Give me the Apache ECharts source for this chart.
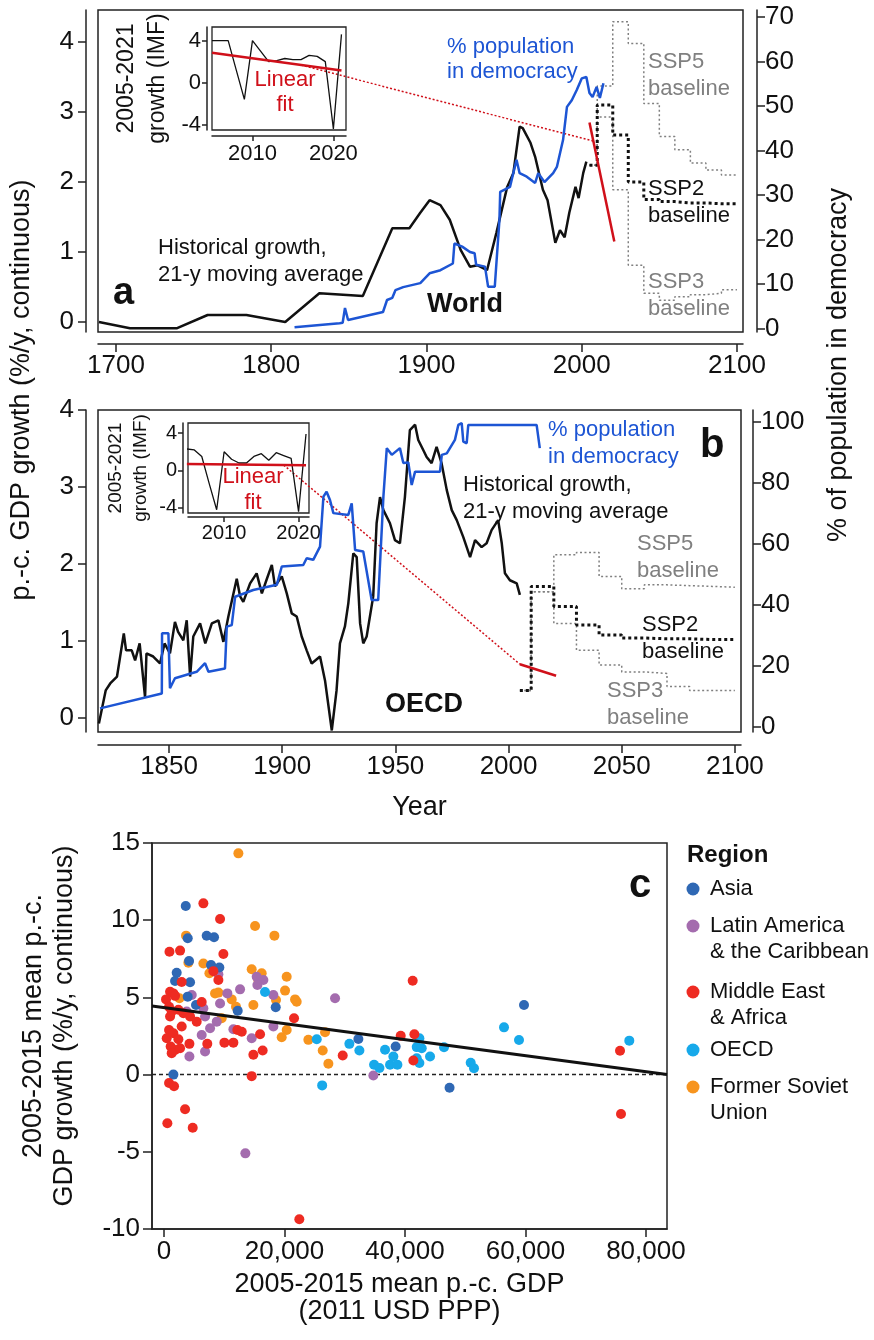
<!DOCTYPE html>
<html>
<head>
<meta charset="utf-8">
<title>Growth and democracy</title>
<script src="https://cdn.jsdelivr.net/npm/echarts@6/dist/echarts.min.js"></script>
<style>
  html, body { margin: 0; padding: 0; background: #fff; }
  #chart { width: 874px; height: 1340px; }
</style>
</head>
<body>
<div id="chart"></div>
<script>
// ---------- panel a: World ----------
var worldYears = [1689,1709,1739,1759,1784,1809,1831,1859,1878,1889,1896,1902,1909,1915,1922,1928,1933,1939,1945,1952,1956,1960,1962,1967,1970,1975,1978,1983,1986,1989,1992,1996,1998,2001,2003];
var worldGrowth = [0.0,-0.09,-0.09,0.10,0.10,0.0,0.41,0.37,1.34,1.34,1.56,1.74,1.67,1.46,1.03,0.79,0.81,0.74,1.27,1.93,2.13,2.79,2.77,2.56,2.36,1.89,1.74,1.13,1.31,1.21,1.56,1.93,1.77,2.13,2.29];

var worldDemYears = [1815,1844,1846,1847.5,1849.5,1872,1874.6,1878,1880,1885,1896,1902,1909,1917,1918,1923,1928,1931,1932,1937.7,1939.7,1944,1947,1947.5,1953.8,1958,1960,1964.6,1970,1972,1976,1981.6,1984,1988,1990.5,1993.6,1996.8,2000,2003,2005,2007,2009.6,2011.7,2014];
var worldDem = [0.3,1.2,1.3,4.6,1.9,3.7,6.4,6.9,8.6,9.3,10.2,12.4,13.1,14.6,19.1,18.4,17.2,16.9,14.3,13.9,9.4,9.4,24.4,30.7,31.8,37.9,34.9,34.1,32.7,34.9,32.9,34.9,36.3,42.4,49.8,51.3,53.6,56.2,56.5,52.9,52.0,54.3,51.8,55.1];

// ---------- panel b: OECD ----------
var oecdYears = [1819,1822,1824,1827,1830,1831,1833.5,1835,1837,1839.4,1840,1843,1846,1848,1850.4,1852.6,1854,1856.3,1857.8,1859.3,1860.7,1863.7,1866,1868.9,1871.8,1874,1876.2,1879.9,1881.4,1882.8,1885.8,1888.7,1891,1893,1895.4,1896.8,1899.8,1902,1904.2,1906.4,1908.6,1910.8,1913,1916.7,1918.9,1921.9,1924,1925.5,1927.7,1929.2,1931.4,1932.9,1934.4,1935.8,1937.3,1940.2,1941.7,1943.2,1944.7,1947.6,1949.8,1952,1954.2,1956.4,1958.7,1960.1,1962.3,1963.8,1966,1968.2,1970.4,1972.7,1974.9,1977.1,1980,1983,1985.2,1988.1,1990.3,1992.5,1995.4,1997,1998.4,2000.6,2003.6,2005];
var oecdGrowth = [-0.07,0.36,0.45,0.54,1.10,0.88,0.88,0.75,0.97,0.27,0.84,0.80,0.71,0.97,0.84,1.25,1.12,1.01,1.27,0.54,1.06,1.23,0.97,1.23,1.27,0.99,1.32,1.81,1.58,1.51,1.75,1.88,1.62,1.79,1.99,1.71,1.84,1.62,1.36,1.32,1.06,0.88,0.71,0.80,0.49,-0.16,0.36,0.97,1.19,1.49,2.14,2.09,1.23,0.97,1.06,1.58,2.53,2.87,2.70,2.53,2.31,2.27,2.87,3.74,3.81,3.61,3.48,3.39,3.31,3.52,3.31,2.96,2.70,2.57,2.35,2.09,2.31,2.22,2.27,2.44,2.57,2.27,1.88,1.79,1.75,1.60];

var oecdDemYears = [1819.5,1846.8,1846.9,1849.7,1850.4,1852.6,1862.2,1865.9,1867.4,1874.7,1875.5,1877.7,1879.2,1887.2,1897.6,1899.8,1909.3,1910.8,1913.7,1916.7,1918.2,1919.6,1921.1,1922.6,1929.2,1930.7,1932.2,1935.8,1939.5,1942.4,1944.7,1946.2,1948.4,1952,1953.5,1955.7,1957.2,1958.7,1969.7,1970.5,1972.7,1974.1,1976.3,1977.8,1979.3,1980,1981.5,1982.2,2012.4,2013.8];
var oecdDem = [6.1,11.0,30.7,30.7,12.7,16.0,18.1,20.9,18.1,19.2,32.9,33.4,42.7,44.9,46.6,52.6,53.1,55.3,54.8,59.1,75.5,77.1,74.4,70.1,69.5,73.3,58.0,57.5,41.6,41.6,75.5,91.4,89.2,91.4,86.5,86.7,79.3,83.7,83.7,89.2,89.7,91.4,94.1,99.0,99.6,93.5,93.0,99.0,99.0,91.4];

// ---------- SSP baselines (value held from each year to the next) ----------
var sspYears = [2005,2010,2020,2030,2040,2050,2060,2070,2080,2090,2100];
var worldSsp2 = [2.24,3.10,2.67,2.00,1.75,1.72,1.70,1.70,1.69,1.69,1.69];
var worldSsp5 = [2.24,3.37,4.29,3.98,3.12,2.65,2.46,2.27,2.17,2.10,2.10];
var worldSsp3 = [2.24,2.93,1.89,0.81,0.41,0.31,0.36,0.39,0.41,0.46,0.46];
var oecdSsp2 = [0.36,1.71,1.45,1.21,1.08,1.04,1.03,1.03,1.02,1.02,1.02];
var oecdSsp5 = [0.36,1.64,2.12,2.15,1.84,1.68,1.73,1.72,1.71,1.70,1.70];
var oecdSsp3 = [0.36,1.64,1.23,0.88,0.69,0.60,0.58,0.41,0.36,0.36,0.36];

// ---------- insets: IMF growth 2005-2021 and linear fits ----------
var imfYears = [2005,2006,2007,2008,2009,2010,2011,2012,2013,2014,2015,2016,2017,2018,2019,2020,2021];
var worldImf = [4.0,4.0,4.0,1.2,-1.6,4.0,3.0,2.0,2.1,2.3,2.2,2.2,2.6,2.5,2.0,-4.4,4.6];
var oecdImf = [2.3,2.2,1.5,-1.4,-4.2,2.0,1.2,0.8,0.8,1.5,1.8,1.1,1.9,1.6,1.3,-4.4,3.9];
var fitYears = [2005, 2021];
var worldFit = [2.85, 1.15];
var oecdFit = [0.70, 0.55];

// ---------- panel c: [mean GDP, mean growth] by region ----------
var regionNames = ['Asia', 'Latin America\n& the Caribbean', 'Middle East\n& Africa', 'OECD', 'Former Soviet\nUnion'];
var regionColors = ['#2f68b4', '#a46cae', '#ee2b22', '#17a9ea', '#f7941e'];
var asiaPts = [[3600,10.92],[3930,8.83],[7080,8.99],[8300,8.9],[4150,7.36],[7800,7.1],[9180,6.94],[2100,6.6],[1830,6.06],[4320,5.98],[3930,5.05],[5310,4.51],[12230,4.14],[18540,4.36],[32260,2.31],[38450,1.82],[1550,0.0],[47400,-0.85],[59760,4.51]];
var latamPts = [[4600,5.15],[10510,5.26],[12620,5.52],[9020,6.5],[15380,6.34],[16490,6.13],[15500,5.8],[18150,5.15],[28390,4.94],[9300,4.61],[6530,4.3],[6810,3.76],[8750,3.43],[7640,3.0],[6250,2.57],[11510,2.94],[14550,2.36],[18150,3.11],[6810,1.5],[4210,1.17],[34750,-0.06],[13500,-5.1],[3760,4.08]];
var meaPts = [[6530,11.09],[9300,10.08],[9850,7.81],[900,7.96],[2660,8.03],[2930,6.0],[9020,6.13],[8190,6.7],[1000,5.37],[330,4.87],[1550,5.26],[1830,5.1],[6250,4.7],[830,4.4],[1270,4.08],[2380,4.2],[3210,3.97],[4320,3.76],[5420,3.43],[1000,3.76],[2930,3.11],[830,2.89],[443,2.35],[1550,2.68],[2380,2.29],[1100,1.82],[1830,1.6],[2660,1.71],[1270,1.39],[4210,1.99],[7180,1.99],[10020,2.07],[11510,2.07],[12170,2.89],[12900,2.78],[15940,2.61],[21580,3.65],[14830,1.28],[16370,1.56],[29660,1.24],[39290,2.51],[41560,2.61],[41280,6.08],[41390,0.91],[14550,-0.1],[830,-0.54],[1660,-0.76],[3490,-2.24],[550,-3.15],[4760,-3.44],[22460,-9.37],[75700,1.55],[75860,-2.55]];
var oecdPts = [[16760,5.35],[25350,2.29],[26250,-0.7],[30770,1.99],[32430,1.56],[34870,0.64],[35760,0.43],[36690,1.61],[37520,0.64],[38070,1.17],[38740,0.64],[41950,1.78],[42390,2.35],[42780,1.71],[41950,1.06],[42390,0.75],[44160,1.17],[46480,1.77],[50910,0.77],[51460,0.41],[56440,3.06],[58930,2.24],[77240,2.2]];
var fsuPts = [[12340,14.33],[15110,9.63],[18320,9.0],[3650,9.0],[4040,7.25],[6530,7.2],[7530,6.56],[7910,6.99],[14550,6.82],[16210,6.56],[20360,6.34],[15660,6.13],[8470,5.26],[9020,5.31],[11230,4.87],[11950,4.4],[14830,4.51],[20090,5.44],[18590,4.83],[21750,4.87],[22020,4.72],[2550,4.94],[9570,3.65],[20360,2.89],[19530,2.42],[23960,2.25],[26730,2.74],[26340,1.56],[27280,0.7]];
var regX = [-2000, 83500];
var regY = [4.44, 0.0];
var zeroY = [0, 0];

// ---------- tick labels ----------
var yearTicksA = [1700,1800,1900,2000,2100];
var yearTicksB = [1850,1900,1950,2000,2050,2100];
var growthTicks = [0,1,2,3,4];
var demTicksA = [0,10,20,30,40,50,60,70];
var demTicksB = [0,20,40,60,80,100];
var insetXTicks = [2010,2020];
var insetYTicks = [-4,0,4];
var gdpTicks = [0,20000,40000,60000,80000];
var growthTicksC = [-10,-5,0,5,10,15];

var FONT = '"Liberation Sans", Arial, Helvetica, sans-serif';
var INK = '#111';
var BLUE = '#1d55d4';
var RED = '#d0101a';
var GREY = '#808080';

function zip(xs, ys) { return xs.map(function (x, i) { return [x, ys[i]]; }); }
function plain(v) { return String(v); }

function axis(gridIndex, min, max, ticks, o) {
  o = o || {};
  var a = {
    gridIndex: gridIndex, type: 'value', min: min, max: max,
    position: o.position, offset: o.offset || 0,
    splitLine: { show: false },
    axisLine: { show: true, onZero: false, lineStyle: { color: '#222', width: 1.5 } },
    axisTick: { show: true, customValues: ticks, length: o.tickLen || 8, lineStyle: { color: '#222', width: 1.5 } },
    axisLabel: { customValues: ticks, color: INK, fontFamily: FONT, fontSize: o.fontSize || 26, margin: o.margin || 10,
      formatter: o.formatter || plain }
  };
  if (o.name) {
    a.name = o.name; a.nameLocation = 'middle'; a.nameGap = o.nameGap;
    if (o.nameRotate) a.nameRotate = o.nameRotate;
    a.nameTextStyle = o.nameTextStyle;
  }
  return a;
}

function line(xi, yi, data, style, extra) {
  var s = {
    type: 'line', xAxisIndex: xi, yAxisIndex: yi, data: data,
    showSymbol: false, symbol: 'none', silent: true, animation: false,
    lineStyle: style, z: 3
  };
  for (var k in extra) s[k] = extra[k];
  return s;
}

var ssp5Style = { color: GREY, width: 1.5, type: [2, 2.5] };
var ssp2Style = { color: '#111', width: 3, type: [3, 3] };
var histStyle = { color: '#111', width: 2.5 };
var demStyle = { color: BLUE, width: 2.5 };
var fitStyle = { color: RED, width: 2.5 };

var series = [
  // panel a
  line(0, 0, zip(sspYears, worldSsp5), ssp5Style, { step: 'end' }),
  line(0, 0, zip(sspYears, worldSsp3), ssp5Style, { step: 'end' }),
  line(0, 0, zip(sspYears, worldSsp2), ssp2Style, { step: 'end' }),
  line(0, 0, zip(worldYears, worldGrowth), histStyle),
  line(0, 1, zip(worldDemYears, worldDem), demStyle),
  line(0, 0, zip(fitYears, worldFit), fitStyle, { z: 5 }),
  // inset a
  line(1, 2, zip(imfYears, worldImf), { color: '#111', width: 1.3 }),
  line(1, 2, zip(fitYears, worldFit), fitStyle, { z: 5 }),
  // panel b
  line(2, 3, zip(sspYears, oecdSsp5), ssp5Style, { step: 'end' }),
  line(2, 3, zip(sspYears, oecdSsp3), ssp5Style, { step: 'end' }),
  line(2, 3, zip(sspYears, oecdSsp2), ssp2Style, { step: 'end' }),
  line(2, 3, zip(oecdYears, oecdGrowth), histStyle),
  line(2, 4, zip(oecdDemYears, oecdDem), demStyle),
  line(2, 3, zip(fitYears, oecdFit), fitStyle, { z: 5 }),
  // inset b
  line(3, 5, zip(imfYears, oecdImf), { color: '#111', width: 1.3 }),
  line(3, 5, zip(fitYears, oecdFit), fitStyle, { z: 5 }),
  // panel c
  line(4, 6, zip(regX, zeroY), { color: '#222', width: 1.5, type: [4, 3] })
];
var FIT_A_MAIN = 5, FIT_A_INSET = 7, FIT_B_MAIN = 13, FIT_B_INSET = 15;

var regionPts = [asiaPts, latamPts, meaPts, oecdPts, fsuPts];
var drawOrder = [4, 1, 3, 0, 2];
drawOrder.forEach(function (r) {
  series.push({
    type: 'scatter', name: regionNames[r], xAxisIndex: 4, yAxisIndex: 6,
    data: regionPts[r], symbolSize: 10, silent: true, animation: false,
    itemStyle: { color: regionColors[r], opacity: 1 }, z: 4
  });
});
series.push(line(4, 6, zip(regX, regY), { color: '#111', width: 3 }, { z: 6 }));

var titleStyle = { color: INK, fontFamily: FONT, fontSize: 27 };

var option = {
  animation: false,
  textStyle: { fontFamily: FONT },
  grid: [
    { left: 98, top: 10, width: 645, height: 322, show: true, borderColor: '#222', borderWidth: 1.5 },
    { left: 212, top: 27, width: 134, height: 103, show: true, borderColor: '#222', borderWidth: 1.3 },
    { left: 98, top: 410, width: 643, height: 322, show: true, borderColor: '#222', borderWidth: 1.5 },
    { left: 188, top: 423, width: 121, height: 90, show: true, borderColor: '#222', borderWidth: 1.3 },
    { left: 152, top: 843, width: 515, height: 386, show: true, borderColor: '#222', borderWidth: 1.5 }
  ],
  xAxis: [
    axis(0, 1688.4, 2103.9, yearTicksA, { position: 'bottom', offset: 12, margin: 9 }),
    axis(1, 2005.0, 2021.56, insetXTicks, { position: 'bottom', offset: 6, fontSize: 22, tickLen: 5, margin: 7 }),
    axis(2, 1818.6, 2102.7, yearTicksB, { position: 'bottom', offset: 13, margin: 9,
      name: 'Year', nameGap: 49, nameTextStyle: titleStyle }),
    axis(3, 2005.15, 2021.4, insetXTicks, { position: 'bottom', offset: 4, fontSize: 20, tickLen: 5, margin: 6 }),
    axis(4, -2000, 83500, gdpTicks, { position: 'bottom', margin: 10,
      formatter: function (v) { return v.toLocaleString('en-US'); },
      name: '2005-2015 mean p.-c. GDP\n(2011 USD PPP)', nameGap: 42,
      nameTextStyle: { color: INK, fontFamily: FONT, fontSize: 27, lineHeight: 27, padding: [0, 20, 0, 0] } })
  ],
  yAxis: [
    axis(0, -0.143, 4.457, growthTicks, { position: 'left', offset: 12, margin: 12 }),
    axis(0, -0.79, 71.57, demTicksA, { position: 'right', offset: 14, margin: 8 }),
    axis(1, -4.51, 5.30, insetYTicks, { position: 'left', offset: 5, fontSize: 22, tickLen: 5, margin: 6,
      name: '2005-2021\ngrowth (IMF)', nameGap: 34, nameRotate: 90,
      nameTextStyle: { color: INK, fontFamily: FONT, fontSize: 23, lineHeight: 31 } }),
    axis(2, -0.18, 4.0, growthTicks, { position: 'left', offset: 12, margin: 12 }),
    axis(2, -1.64, 103.9, demTicksB, { position: 'right', offset: 12, margin: 8 }),
    axis(3, -4.55, 5.08, insetYTicks, { position: 'left', offset: 5, fontSize: 20, tickLen: 5, margin: 6,
      name: '2005-2021\ngrowth (IMF)', nameGap: 30, nameRotate: 90,
      nameTextStyle: { color: INK, fontFamily: FONT, fontSize: 19, lineHeight: 25 } }),
    axis(4, -10, 15, growthTicksC, { position: 'left', margin: 12, tickLen: 9,
      name: '2005-2015 mean p.-c.\nGDP growth (%/y, continuous)', nameGap: 72, nameRotate: 90,
      nameTextStyle: { color: INK, fontFamily: FONT, fontSize: 27, lineHeight: 31, padding: [0, 0, 0, 20] } })
  ],
  series: series
};

var chart = echarts.init(document.getElementById('chart'), null, { renderer: 'canvas' });
chart.setOption(option);

// ---------- annotations ----------
function txt(str, x, y, o) {
  o = o || {};
  var font = (o.weight || 'normal') + ' ' + (o.size || 22) + 'px ' + FONT;
  return {
    type: 'text', x: x, y: y, rotation: o.rot || 0, z: 100, silent: true,
    style: {
      text: str, fill: o.color || INK, font: font,
      align: o.align || 'left', verticalAlign: 'middle',
      textAlign: o.align || 'left', textVerticalAlign: 'middle',
      lineHeight: o.lh || 27
    }
  };
}
function fitAt(vals, yr) {
  var t = (yr - fitYears[0]) / (fitYears[1] - fitYears[0]);
  return vals[0] + t * (vals[1] - vals[0]);
}
function connector(fromSeries, fromYear, toSeries, toYear, vals) {
  var p1 = chart.convertToPixel({ seriesIndex: fromSeries }, [fromYear, fitAt(vals, fromYear)]);
  var p2 = chart.convertToPixel({ seriesIndex: toSeries }, [toYear, fitAt(vals, toYear)]);
  return {
    type: 'line', z: 2, silent: true,
    shape: { x1: p1[0], y1: p1[1], x2: p2[0], y2: p2[1] },
    style: { stroke: RED, lineWidth: 1.5, lineDash: [2, 2] }
  };
}

var g = [
  // shared axis titles
  txt('p.-c. GDP growth (%/y, continuous)', 22, 390, { size: 27, align: 'center', rot: Math.PI / 2 }),
  txt('% of population in democracy', 839, 365, { size: 27, align: 'center', rot: Math.PI / 2 }),
  // panel a
  txt('a', 113, 294, { size: 38, weight: 'bold' }),
  txt('Historical growth,\n21-y moving average', 158, 261.5, { size: 22 }),
  txt('World', 427, 305, { size: 27, weight: 'bold' }),
  txt('% population\nin democracy', 447, 59.5, { size: 22, color: BLUE, lh: 25 }),
  txt('SSP5\nbaseline', 648, 75, { size: 22, color: GREY }),
  txt('SSP2\nbaseline', 648, 202, { size: 22 }),
  txt('SSP3\nbaseline', 648, 295, { size: 22, color: GREY }),
  txt('Linear\nfit', 285, 92.5, { size: 22, color: RED, align: 'center', lh: 25 }),
  // panel b
  txt('% population\nin democracy', 548, 443.5, { size: 22, color: BLUE }),
  txt('b', 700, 446, { size: 40, weight: 'bold' }),
  txt('Historical growth,\n21-y moving average', 463, 498.5, { size: 22 }),
  txt('SSP5\nbaseline', 637, 557.5, { size: 22, color: GREY }),
  txt('SSP2\nbaseline', 642, 638.5, { size: 22 }),
  txt('SSP3\nbaseline', 607, 704, { size: 22, color: GREY }),
  txt('OECD', 385, 705, { size: 27, weight: 'bold' }),
  txt('Linear\nfit', 253, 490, { size: 22, color: RED, align: 'center', lh: 26 }),
  // panel c
  txt('c', 629, 886, { size: 40, weight: 'bold' }),
  txt('Region', 687, 855, { size: 24, weight: 'bold' }),
  // leader lines from inset fits to main fits
  connector(FIT_A_INSET, 2016, FIT_A_MAIN, 2007.5, worldFit),
  connector(FIT_B_INSET, 2018, FIT_B_MAIN, 2005, oecdFit)
];

// region key
var keyY = [889, 926, 992, 1050, 1087];
regionNames.forEach(function (n, i) {
  g.push({ type: 'circle', z: 100, silent: true, shape: { cx: 693, cy: keyY[i], r: 6.5 }, style: { fill: regionColors[i] } });
  var lines = n.split('\n');
  lines.forEach(function (l, j) {
    g.push(txt(l, 710, keyY[i] + j * 26, { size: 22 }));
  });
});

chart.setOption({ graphic: g });
</script>
</body>
</html>
